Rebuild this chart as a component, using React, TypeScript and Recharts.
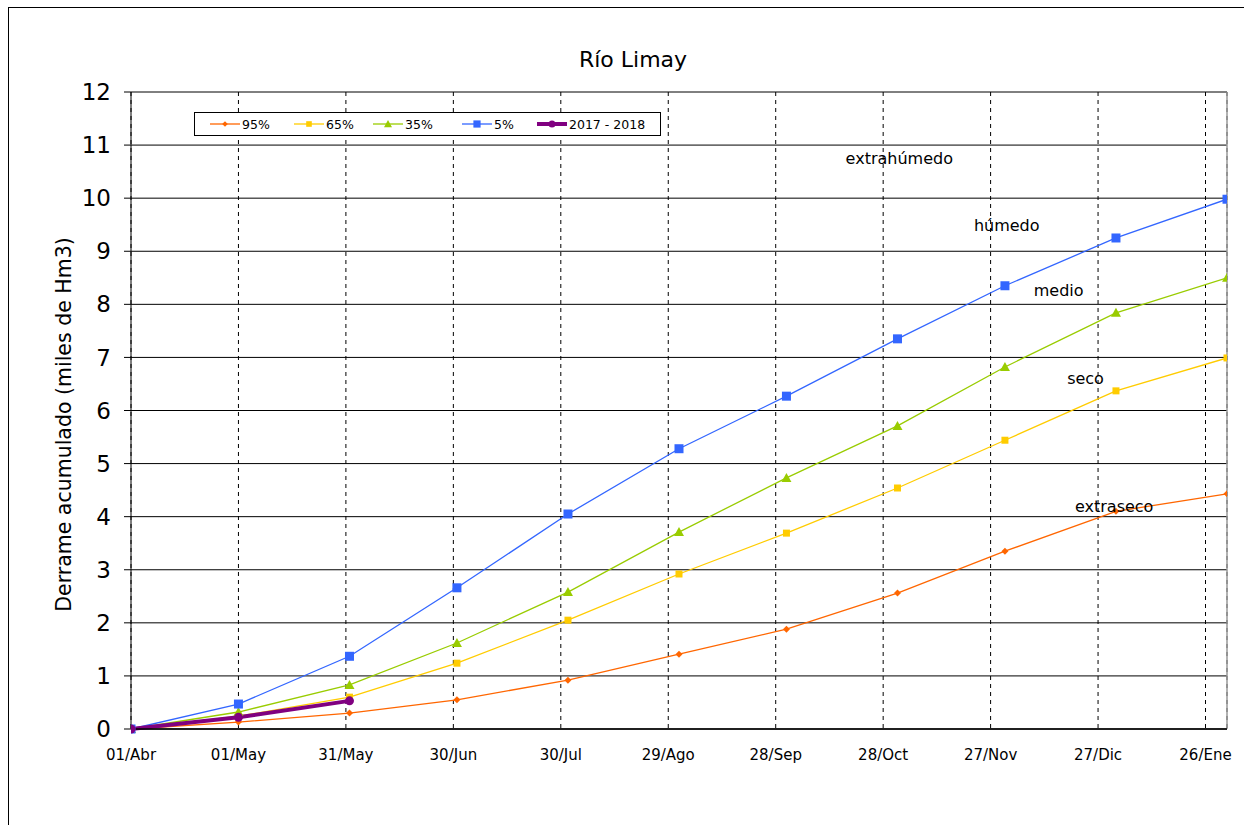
import React from "react";
import {
  LineChart,
  Line,
  XAxis,
  YAxis,
  CartesianGrid,
  ReferenceDot,
  ReferenceLine,
} from "recharts";

// days since 01/Abr for each monthly value (1st of each month)
const days = [0, 30, 61, 91, 122, 153, 183, 214, 244, 275, 306];

const p95 = [0, 0.13, 0.3, 0.55, 0.92, 1.41, 1.88, 2.56, 3.35, 4.1, 4.43];
const p65 = [0, 0.24, 0.6, 1.24, 2.05, 2.92, 3.69, 4.54, 5.44, 6.37, 6.99];
const p35 = [0, 0.32, 0.83, 1.62, 2.58, 3.71, 4.73, 5.71, 6.82, 7.84, 8.5];
const p5 = [0, 0.47, 1.37, 2.66, 4.05, 5.28, 6.27, 7.35, 8.35, 9.25, 9.98];
const season = [0, 0.22, 0.53];

const tickDays = [0, 30, 60, 90, 120, 150, 180, 210, 240, 270, 300];
const tickLabels = [
  "01/Abr",
  "01/May",
  "31/May",
  "30/Jun",
  "30/Jul",
  "29/Ago",
  "28/Sep",
  "28/Oct",
  "27/Nov",
  "27/Dic",
  "26/Ene",
];
const yTicks = [0, 1, 2, 3, 4, 5, 6, 7, 8, 9, 10, 11, 12];

const zoneNames = ["extrahúmedo", "húmedo", "medio", "seco", "extraseco"];
const zoneDays = [214.5, 244.5, 259, 266.5, 274.5];
const zoneValues = [10.76, 9.48, 8.27, 6.61, 4.2];

type Shape = "diamond" | "square" | "triangle" | "circle";

const series: {
  key: string;
  name: string;
  color: string;
  shape: Shape;
  size: number;
  width: number;
  legendWidth: number;
}[] = [
  { key: "p95", name: "95%", color: "#FF6600", shape: "diamond", size: 3.5, width: 1.3, legendWidth: 84 },
  { key: "p65", name: "65%", color: "#FFCC00", shape: "square", size: 3.5, width: 1.3, legendWidth: 79 },
  { key: "p35", name: "35%", color: "#99CC00", shape: "triangle", size: 5, width: 1.3, legendWidth: 89 },
  { key: "p5", name: "5%", color: "#3366FF", shape: "square", size: 4.5, width: 1.3, legendWidth: 75 },
  { key: "season", name: "2017 - 2018", color: "#800080", shape: "circle", size: 4.5, width: 4, legendWidth: 112 },
];

const data = days.map((d, i) => ({
  day: d,
  p95: p95[i],
  p65: p65[i],
  p35: p35[i],
  p5: p5[i],
  season: i < season.length ? season[i] : undefined,
}));

const FONT = "'DejaVu Sans', Verdana, sans-serif";

function marker(shape: Shape, cx: number, cy: number, s: number, color: string, key?: any) {
  if (shape === "diamond") {
    return (
      <path
        key={key}
        d={`M${cx},${cy - s}L${cx + s},${cy}L${cx},${cy + s}L${cx - s},${cy}Z`}
        fill={color}
      />
    );
  }
  if (shape === "square") {
    return <rect key={key} x={cx - s} y={cy - s} width={s * 2} height={s * 2} fill={color} />;
  }
  if (shape === "triangle") {
    return (
      <path
        key={key}
        d={`M${cx},${cy - s}L${cx + s},${cy + s * 0.8}L${cx - s},${cy + s * 0.8}Z`}
        fill={color}
      />
    );
  }
  return <circle key={key} cx={cx} cy={cy} r={s} fill={color} />;
}

export default function App() {
  return (
    <div
      style={{
        position: "fixed",
        left: 0,
        top: 0,
        width: 1244,
        height: 825,
        overflow: "hidden",
        background: "#fff",
        fontFamily: FONT,
      }}
    >
      {/* outer frame */}
      <div
        style={{
          position: "absolute",
          left: 8,
          top: 7,
          width: 1300,
          height: 900,
          borderLeft: "1px solid #000",
          borderTop: "1px solid #000",
        }}
      />
      <div
        style={{
          position: "absolute",
          left: 433,
          top: 47,
          width: 400,
          textAlign: "center",
          fontSize: 22,
          color: "#000",
        }}
      >
        Río Limay
      </div>

      <div style={{ position: "absolute", left: 0, top: 0 }}>
        <LineChart
          width={1244}
          height={825}
          data={data}
          margin={{ top: 92, right: 17, left: 0, bottom: 0 }}
        >
          <CartesianGrid horizontal vertical={false} stroke="#000" strokeWidth={1} />
          <CartesianGrid
            horizontal={false}
            vertical
            stroke="#000"
            strokeDasharray="4 4"
            strokeWidth={1}
          />
          <XAxis
            dataKey="day"
            type="number"
            domain={[0, 306]}
            ticks={tickDays}
            tickFormatter={(v) => tickLabels[tickDays.indexOf(v)] ?? ""}
            height={96}
            tickLine={false}
            tickMargin={14}
            axisLine={{ stroke: "#000", strokeWidth: 1.5 }}
            tick={{ fill: "#000", fontSize: 15, fontFamily: FONT }}
            allowDataOverflow
          />
          <YAxis
            type="number"
            domain={[0, 12]}
            ticks={yTicks}
            width={131}
            tickSize={7}
            tickMargin={13}
            tickLine={{ stroke: "#000" }}
            axisLine={{ stroke: "#000" }}
            tick={{ fill: "#000", fontSize: 23, fontFamily: FONT }}
            label={{
              value: "Derrame acumulado (miles de Hm3)",
              angle: -90,
              position: "center",
              dx: -2,
              dy: 14,
              fill: "#000",
              fontSize: 20.5,
              fontFamily: FONT,
            }}
          />
          <ReferenceLine x={306} stroke="#999" strokeWidth={1.5} />
          {zoneNames.map((name, i) => (
            <ReferenceDot
              key={name}
              x={zoneDays[i]}
              y={zoneValues[i]}
              r={0}
              stroke="none"
              fill="none"
              label={{
                value: name,
                position: "center",
                fill: "#000",
                fontSize: 16,
                fontFamily: FONT,
              }}
            />
          ))}
          {series.map((s) => (
            <Line
              key={s.key}
              type="linear"
              dataKey={s.key}
              name={s.name}
              stroke={s.color}
              strokeWidth={s.width}
              isAnimationActive={false}
              activeDot={false}
              dot={(p: any) =>
                p.value == null || p.cy == null ? (
                  <g key={`${s.key}-${p.index}`} />
                ) : (
                  marker(s.shape, p.cx, p.cy, s.size, s.color, `${s.key}-${p.index}`)
                )
              }
            />
          ))}
        </LineChart>
      </div>

      {/* legend */}
      <div
        style={{
          position: "absolute",
          left: 194,
          top: 112,
          width: 467,
          height: 24,
          border: "1px solid #000",
          display: "flex",
          alignItems: "center",
          paddingLeft: 15,
          boxSizing: "border-box",
          background: "#fff",
          fontSize: 12.5,
          color: "#000",
          whiteSpace: "nowrap",
        }}
      >
        {series.map((s) => (
          <div
            key={s.key}
            style={{ display: "flex", alignItems: "center", width: s.legendWidth, flex: "none" }}
          >
            <svg width={30} height={14}>
              <line x1={0} y1={7} x2={30} y2={7} stroke={s.color} strokeWidth={s.width} />
              {marker(s.shape, 15, 7, s.shape === "circle" ? 3.5 : s.size * 0.8, s.color)}
            </svg>
            <span style={{ marginLeft: 2 }}>{s.name}</span>
          </div>
        ))}
      </div>
    </div>
  );
}
